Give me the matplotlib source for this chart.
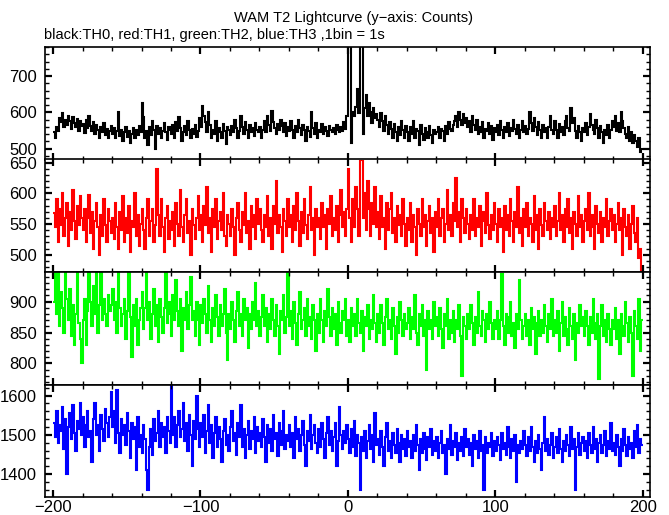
import matplotlib
matplotlib.use('Agg')
import matplotlib.pyplot as plt
import numpy as np
from matplotlib.ticker import MultipleLocator

plt.rcParams['font.family'] = ['Liberation Sans', 'DejaVu Sans']

# bin edges: 1 s bins from -200 to 200
edges = np.arange(-200, 201)

# TH0 (black) counts per bin
th0 = [
    545, 530, 560, 548, 585, 572, 598, 560, 580, 566, 590, 575, 555, 588, 570, 560, 582, 548, 576, 562,
    568, 542, 580, 556, 590, 561, 548, 572, 540, 565, 552, 530, 560, 545, 570, 538, 555, 528, 548, 562,
    540, 556, 530, 548, 600, 535, 552, 520, 545, 560, 532, 548, 515, 540, 556, 528, 550, 538, 562, 545,
    625, 588, 530, 548, 510, 560, 538, 575, 552, 500, 562, 540, 556, 530, 548, 570, 545, 525, 560, 552,
    540, 565, 530, 572, 548, 588, 556, 520, 545, 562, 538, 575, 550, 528, 555, 540, 566, 532, 548, 585,
    560, 618, 590, 572, 545, 600, 565, 530, 552, 540, 575, 522, 556, 545, 530, 568, 548, 512, 560, 550,
    538, 562, 545, 580, 556, 528, 548, 590, 560, 540, 572, 552, 530, 565, 545, 558, 536, 570, 550, 545,
    560, 528, 552, 575, 545, 590, 566, 548, 605, 572, 556, 540, 568, 552, 580, 562, 545, 570, 535, 560,
    548, 575, 552, 530, 562, 545, 578, 556, 538, 565, 550, 520, 560, 548, 532, 600, 556, 540, 570, 528,
    552, 545, 568, 540, 560, 548, 535, 562, 550, 545, 558, 540, 566, 552, 545, 560, 548, 572, 555, 590,
    800, 800, 515, 600, 590, 615, 665, 598, 800, 800, 540, 612, 648, 590, 625, 600, 570, 612, 585, 596,
    580, 560, 598, 575, 548, 590, 565, 540, 572, 555, 530, 568, 545, 520, 560, 538, 575, 552, 530, 562,
    545, 520, 560, 540, 575, 530, 555, 548, 510, 565, 540, 525, 558, 545, 530, 562, 538, 515, 550, 540,
    545, 560, 530, 555, 548, 520, 562, 540, 572, 555, 548, 566, 575, 590, 560, 600, 580, 565, 595, 570,
    585, 560, 575, 545, 590, 566, 550, 578, 540, 560, 545, 572, 530, 555, 548, 570, 540, 562, 525, 558,
    545, 565, 538, 575, 552, 528, 560, 545, 570, 535, 558, 548, 580, 555, 540, 565, 530, 552, 575, 545,
    562, 540, 555, 600, 570, 548, 585, 560, 538, 572, 550, 528, 565, 545, 558, 530, 560, 590, 552, 540,
    575, 552, 530, 568, 545, 560, 538, 575, 590, 556, 548, 612, 570, 585, 548, 530, 562, 545, 520, 558,
    545, 570, 538, 560, 595, 566, 552, 540, 578, 556, 530, 562, 545, 515, 550, 538, 565, 528, 552, 575,
    560, 590, 548, 570, 545, 600, 575, 556, 540, 530, 560, 520, 545, 515, 538, 520, 505, 530, 490, 500,
]

# TH1 (red)
th1 = [
    568, 545, 590, 520, 575, 548, 600, 530, 560, 585, 515, 570, 540, 605, 555, 525, 580, 548, 595, 560,
    540, 575, 520, 560, 598, 535, 570, 510, 555, 585, 545, 500, 565, 530, 590, 548, 520, 575, 555, 535,
    560, 525, 585, 545, 510, 570, 540, 595, 520, 560, 535, 580, 505, 555, 545, 600, 530, 565, 515, 550,
    575, 540, 510, 560, 590, 530, 555, 575, 520, 548, 640, 565, 530, 590, 545, 505, 560, 580, 525, 555,
    540, 570, 515, 585, 550, 530, 605, 545, 520, 565, 590, 535, 555, 500, 575, 548, 525, 560, 595, 540,
    565, 520, 580, 548, 610, 535, 560, 505, 575, 545, 590, 525, 555, 570, 540, 600, 530, 515, 565, 550,
    530, 575, 545, 500, 560, 585, 540, 520, 570, 548, 600, 535, 555, 510, 580, 545, 565, 525, 590, 550,
    575, 540, 520, 565, 545, 595, 530, 560, 510, 580, 550, 620, 535, 565, 545, 505, 575, 555, 530, 590,
    545, 565, 520, 580, 540, 600, 555, 515, 570, 535, 590, 548, 525, 565, 610, 540, 560, 500, 575, 545,
    560, 525, 585, 545, 565, 510, 575, 550, 595, 530, 560, 540, 580, 520, 565, 605, 545, 570, 530, 575,
    640, 560, 520, 590, 545, 610, 575, 530, 655, 660, 560, 600, 540, 620, 575, 530, 585, 550, 610, 545,
    570, 525, 595, 545, 560, 510, 585, 540, 575, 600, 535, 560, 520, 580, 548, 565, 530, 590, 550, 515,
    560, 540, 585, 520, 565, 545, 500, 575, 550, 530, 590, 545, 565, 515, 555, 580, 535, 560, 505, 570,
    545, 590, 530, 560, 575, 520, 550, 605, 540, 565, 530, 585, 555, 625, 545, 570, 520, 590, 560, 535,
    575, 550, 525, 565, 540, 590, 530, 560, 545, 580, 515, 555, 570, 535, 600, 548, 525, 565, 540, 585,
    550, 520, 575, 545, 560, 505, 580, 540, 565, 530, 590, 555, 520, 570, 545, 610, 535, 560, 515, 575,
    545, 585, 530, 560, 550, 520, 595, 540, 565, 510, 575, 548, 530, 585, 555, 540, 570, 525, 560, 545,
    580, 530, 555, 600, 540, 565, 520, 575, 545, 590, 535, 560, 510, 570, 550, 530, 595, 545, 565, 520,
    555, 575, 540, 600, 530, 565, 545, 510, 580, 550, 535, 570, 520, 560, 545, 590, 530, 555, 575, 540,
    565, 520, 550, 585, 540, 560, 500, 575, 545, 530, 565, 510, 550, 580, 535, 520, 560, 495, 510, 470,
]

# TH2 (green)
th2 = [
    900, 950, 880, 950, 860, 915, 890, 850, 950, 905, 870, 920, 845, 895, 830, 880, 950, 865, 840, 800,
    870, 905, 830, 885, 950, 900, 860, 925, 880, 950, 850, 895, 950, 870, 905, 880, 860, 910, 885, 895,
    920, 870, 900, 850, 950, 890, 860, 880, 905, 840, 885, 950, 875, 810, 895, 860, 905, 830, 870, 890,
    915, 855, 890, 950, 870, 900, 840, 880, 920, 860, 895, 835, 905, 875, 850, 890, 950, 865, 900, 880,
    845, 910, 870, 935, 885, 860, 905, 820, 890, 870, 915, 855, 895, 940, 870, 885, 845, 900, 870, 830,
    895, 865, 905, 880, 850, 925, 870, 835, 890, 860, 910, 875, 845, 895, 860, 880, 920, 850, 805, 880,
    855, 900, 870, 835, 885, 915, 860, 880, 845, 905, 870, 890, 825, 880, 855, 900, 870, 930, 860, 885,
    845, 875, 910, 860, 890, 835, 880, 855, 905, 870, 845, 895, 860, 815, 885, 870, 910, 850, 875, 950,
    860, 885, 840, 900, 865, 830, 880, 915, 855, 870, 890, 845, 905, 860, 875, 840, 895, 870, 820, 880,
    850, 905, 870, 835, 885, 860, 920, 875, 845, 890, 855, 880, 830, 900, 865, 850, 885, 870, 905, 845,
    870, 835, 890, 860, 880, 845, 905, 865, 850, 885, 820, 875, 860, 895, 840, 870, 855, 910, 865, 835,
    880, 850, 895, 865, 830, 875, 905, 855, 870, 840, 890, 860, 815, 875, 850, 900, 870, 845, 880, 855,
    865, 890, 840, 875, 855, 910, 850, 830, 880, 860, 895, 845, 870, 790, 885, 855, 870, 840, 900, 860,
    875, 845, 890, 855, 825, 880, 860, 905, 840, 870, 850, 885, 835, 870, 855, 895, 845, 780, 875, 860,
    840, 880, 855, 895, 865, 830, 875, 850, 915, 860, 845, 885, 870, 835, 880, 855, 900, 865, 840, 870,
    855, 885, 840, 870, 945, 860, 830, 880, 850, 875, 900, 845, 865, 825, 880, 855, 935, 870, 840, 860,
    880, 845, 870, 830, 890, 855, 875, 815, 865, 885, 845, 870, 850, 895, 860, 835, 880, 855, 905, 845,
    870, 850, 885, 820, 865, 900, 845, 875, 855, 830, 890, 860, 840, 880, 805, 865, 850, 895, 860, 875,
    845, 885, 860, 830, 875, 850, 905, 865, 840, 880, 775, 860, 895, 845, 870, 835, 880, 855, 830, 870,
    855, 890, 840, 870, 815, 880, 860, 845, 900, 865, 835, 875, 850, 780, 885, 860, 840, 905, 820, 870,
]

# TH3 (blue)
th3 = [
    1530, 1495, 1560, 1480, 1525, 1510, 1570, 1465, 1540, 1400, 1520, 1555, 1490, 1575, 1505, 1460, 1535, 1515, 1580, 1500,
    1545, 1470, 1525, 1560, 1495, 1510, 1430, 1540, 1580, 1500, 1525, 1460, 1550, 1515, 1485, 1565, 1530, 1495, 1545, 1610,
    1520, 1560, 1480, 1615, 1505, 1455, 1540, 1500, 1525, 1475, 1555, 1510, 1440, 1530, 1490, 1520, 1410, 1545, 1470, 1500,
    1455, 1525, 1490, 1410, 1360, 1470, 1515, 1450, 1540, 1485, 1505, 1560, 1470, 1530, 1495, 1520, 1455, 1545, 1510, 1480,
    1625, 1500, 1545, 1470, 1525, 1560, 1495, 1515, 1580, 1485, 1530, 1460, 1550, 1500, 1420, 1535, 1490, 1600, 1515, 1470,
    1530, 1495, 1550, 1455, 1510, 1575, 1480, 1525, 1440, 1505, 1545, 1470, 1520, 1490, 1430, 1510, 1540, 1475, 1500, 1460,
    1520, 1560, 1485, 1505, 1450, 1530, 1495, 1575, 1470, 1515, 1440, 1500, 1535, 1465, 1510, 1490, 1545, 1455, 1520, 1485,
    1505, 1470, 1540, 1495, 1430, 1525, 1480, 1515, 1460, 1550, 1490, 1505, 1445, 1530, 1475, 1510, 1560, 1465, 1500, 1485,
    1525, 1470, 1505, 1440, 1545, 1490, 1515, 1460, 1500, 1535, 1475, 1420, 1510, 1485, 1550, 1465, 1500, 1525, 1480, 1455,
    1515, 1470, 1530, 1490, 1440, 1505, 1545, 1475, 1510, 1460, 1495, 1530, 1420, 1485, 1570, 1500, 1465, 1510, 1480, 1525,
    1490, 1455, 1515, 1470, 1535, 1445, 1500, 1480, 1360, 1495, 1460, 1510, 1440, 1485, 1525, 1465, 1500, 1430, 1555, 1475,
    1490, 1450, 1510, 1470, 1420, 1495, 1530, 1460, 1485, 1440, 1505, 1475, 1455, 1515, 1480, 1430, 1500, 1465, 1490, 1445,
    1510, 1470, 1485, 1440, 1500, 1460, 1525, 1475, 1410, 1490, 1455, 1505, 1465, 1435, 1495, 1470, 1515, 1450, 1485, 1460,
    1495, 1440, 1480, 1510, 1455, 1475, 1400, 1490, 1465, 1525, 1450, 1485, 1470, 1505, 1435, 1480, 1460, 1495, 1445, 1515,
    1470, 1490, 1450, 1480, 1420, 1500, 1465, 1485, 1440, 1510, 1460, 1475, 1360, 1495, 1455, 1480, 1470, 1505, 1445, 1485,
    1460, 1495, 1475, 1435, 1505, 1465, 1480, 1450, 1520, 1470, 1440, 1490, 1460, 1500, 1380, 1475, 1455, 1485, 1465, 1510,
    1475, 1445, 1495, 1460, 1520, 1470, 1430, 1485, 1455, 1500, 1465, 1410, 1480, 1545, 1460, 1490, 1450, 1475, 1505, 1440,
    1470, 1495, 1455, 1515, 1465, 1430, 1485, 1460, 1500, 1475, 1445, 1520, 1465, 1490, 1360, 1470, 1505, 1450, 1480, 1495,
    1460, 1485, 1440, 1505, 1475, 1455, 1520, 1465, 1490, 1430, 1480, 1500, 1455, 1475, 1510, 1445, 1485, 1465, 1530, 1460,
    1480, 1450, 1500, 1470, 1420, 1490, 1460, 1515, 1475, 1445, 1495, 1465, 1480, 1440, 1510, 1470, 1525, 1455, 1490, 1475,
]

series = [th0, th1, th2, th3]
colors = ['black', '#ff0000', '#00ff00', '#0000ff']
ylims = [(470, 780), (472, 655), (766, 948), (1342, 1628)]
major_steps = [100, 50, 50, 100]
minor_steps = [20, 10, 10, 20]

W, H = 669, 515
fig = plt.figure(figsize=(W / 100, H / 100), dpi=100)

left, right = 45 / W, 650 / W
tops = [47, 159.5, 272, 384.5]
ph = 112.5

for i, (vals, col) in enumerate(zip(series, colors)):
    ax = fig.add_axes([left, 1 - (tops[i] + ph) / H, right - left, ph / H])
    ax.stairs(vals, edges, baseline=None, color=col, lw=1.5)
    ax.set_xlim(-205.5, 205)
    ax.set_ylim(*ylims[i])
    ax.xaxis.set_major_locator(MultipleLocator(100))
    ax.xaxis.set_minor_locator(MultipleLocator(20))
    ax.yaxis.set_major_locator(MultipleLocator(major_steps[i]))
    ax.yaxis.set_minor_locator(MultipleLocator(minor_steps[i]))
    ax.tick_params(which='both', direction='in', top=True, right=True, labelsize=12, pad=6)
    ax.tick_params(which='major', length=5, width=1.6)
    ax.tick_params(which='minor', length=3, width=1)
    for sp in ax.spines.values():
        sp.set_linewidth(1.2)
    if i < 3:
        ax.tick_params(labelbottom=False)
    else:
        ax.tick_params(axis='x', pad=2)

fig.text(0.528, 0.965, 'WAM T2 Lightcurve (y\u2212axis: Counts)', ha='center', va='center', fontsize=10.5)
fig.text(0.066, 0.932, 'black:TH0, red:TH1, green:TH2, blue:TH3 ,1bin = 1s', ha='left', va='center', fontsize=10.5)

fig.savefig('out.png', dpi=100)
